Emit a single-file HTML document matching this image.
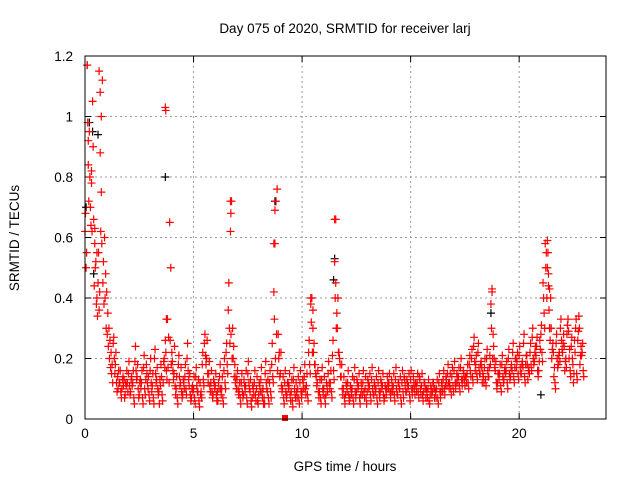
<!DOCTYPE html>
<html><head><meta charset="utf-8"><style>
html,body{margin:0;padding:0;background:#fff;}
svg{display:block;font-family:"Liberation Sans",sans-serif;}
</style></head><body>
<svg id="chart" width="640" height="480">
<text x="345" y="33" font-size="13.5" text-anchor="middle">Day 075 of 2020, SRMTID for receiver larj</text>
<text x="345" y="471" font-size="13.5" text-anchor="middle">GPS time / hours</text>
<text x="19" y="238" font-size="13.5" text-anchor="middle" transform="rotate(-90 19 238)">SRMTID / TECUs</text>
<g id="grid"></g>
<g id="ticks"></g>
<g id="marks"></g>
<rect x="85" y="56" width="521" height="363" fill="none" stroke="#000" stroke-width="1"/>
</svg>
<script>
const xTicks=[0,5,10,15,20];
const yTicks=[0,0.2,0.4,0.6,0.8,1,1.2];
const yTickLabels=["0","0.2","0.4","0.6","0.8","1","1.2"];
const valuesA=[0.62,1.17,0.95,0.78,0.66,0.52,0.45,0.88,1.12,0.60,
0.42,0.30,0.22,0.25,0.18,0.14,0.12,0.10,0.13,0.11,
0.15,0.09,0.12,0.19,0.14,0.08,0.12,0.17,0.13,0.10,
0.16,0.11,0.20,0.13,0.09,0.18,0.12,0.26,0.33,0.65,
0.22,0.15,0.10,0.18,0.12,0.08,0.14,0.20,0.11,0.07,
0.10,0.14,0.09,0.12,0.18,0.25,0.20,0.15,0.12,0.08,
0.11,0.09,0.14,0.10,0.16,0.22,0.36,0.62,0.30,0.18,
0.13,0.09,0.12,0.08,0.11,0.15,0.09,0.07,0.12,0.10,
0.08,0.13,0.10,0.15,0.09,0.12,0.18,0.42,0.72,0.28,
0.15,0.10,0.12,0.08,0.11,0.09,0.13,0.07,0.10,0.12,
0.09,0.14,0.11,0.22,0.38,0.30,0.18,0.12,0.09,0.13,
0.10,0.08,0.15,0.12,0.21,0.52,0.35,0.22,0.14,0.10,
0.08,0.12,0.07,0.10,0.13,0.09,0.11,0.08,0.12,0.10,
0.09,0.11,0.13,0.08,0.10,0.12,0.09,0.11,0.07,0.10,
0.12,0.09,0.11,0.13,0.08,0.10,0.12,0.14,0.09,0.11,
0.13,0.10,0.08,0.12,0.14,0.11,0.09,0.07,0.10,0.08,
0.09,0.07,0.10,0.12,0.09,0.13,0.11,0.15,0.12,0.14,
0.16,0.12,0.14,0.17,0.13,0.11,0.15,0.18,0.20,0.24,
0.18,0.22,0.15,0.12,0.17,0.20,0.14,0.38,0.28,0.16,
0.12,0.15,0.18,0.13,0.16,0.20,0.14,0.22,0.17,0.19,
0.21,0.15,0.25,0.18,0.13,0.22,0.27,0.19,0.24,0.16,
0.28,0.45,0.58,0.50,0.30,0.20,0.14,0.25,0.18,0.30,
0.22,0.16,0.28,0.20,0.24,0.12,0.30,0.26,0.18,0.22];
const valuesB=[0.50,0.84,0.70,1.05,0.58,0.40,0.36,0.75,0.52,0.48,
0.35,0.26,0.18,0.20,0.12,0.16,0.09,0.14,0.08,0.12,
0.11,0.14,0.07,0.16,0.10,0.13,0.07,0.10,0.15,0.08,
0.12,0.07,0.15,0.10,0.13,0.08,0.20,0.16,0.27,0.50,
0.16,0.11,0.07,0.14,0.09,0.12,0.10,0.16,0.08,0.11,
0.07,0.11,0.06,0.09,0.13,0.21,0.15,0.11,0.09,0.12,
0.08,0.12,0.10,0.07,0.12,0.18,0.30,0.72,0.24,0.14,
0.10,0.07,0.09,0.11,0.07,0.12,0.06,0.10,0.08,0.06,
0.11,0.09,0.07,0.12,0.07,0.09,0.14,0.58,0.76,0.22,
0.11,0.07,0.09,0.12,0.08,0.06,0.10,0.09,0.07,0.09,
0.12,0.10,0.08,0.18,0.40,0.25,0.14,0.09,0.07,0.10,
0.07,0.11,0.12,0.09,0.16,0.66,0.40,0.18,0.10,0.07,
0.11,0.08,0.10,0.07,0.09,0.12,0.07,0.10,0.09,0.07,
0.12,0.08,0.10,0.11,0.07,0.09,0.12,0.08,0.10,0.12,
0.09,0.11,0.08,0.10,0.12,0.07,0.09,0.11,0.12,0.08,
0.10,0.12,0.11,0.09,0.10,0.08,0.12,0.09,0.06,0.10,
0.12,0.09,0.07,0.09,0.11,0.10,0.13,0.12,0.10,0.11,
0.12,0.14,0.11,0.13,0.15,0.14,0.12,0.16,0.14,0.19,
0.15,0.17,0.19,0.14,0.13,0.16,0.21,0.43,0.20,0.12,
0.15,0.11,0.14,0.17,0.12,0.15,0.18,0.14,0.20,0.15,
0.17,0.19,0.14,0.21,0.17,0.18,0.20,0.24,0.16,0.26,
0.22,0.35,0.55,0.44,0.40,0.25,0.12,0.20,0.22,0.26,
0.28,0.20,0.33,0.16,0.20,0.26,0.15,0.34,0.24,0.16];
const valuesC=[0.68,0.98,0.80,0.62,0.44,0.38,0.55,0.62,0.45,0.40,
0.28,0.20,0.15,0.27,0.22,0.10,0.16,0.13,0.07,0.16,
0.19,0.13,0.16,0.24,0.18,0.12,0.16,0.21,0.18,0.14,
0.20,0.15,0.23,0.17,0.05,0.14,0.19,0.22,0.17,0.26,
0.19,0.24,0.14,0.21,0.17,0.13,0.18,0.25,0.15,0.10,
0.14,0.17,0.13,0.08,0.22,0.28,0.26,0.19,0.16,0.13,
0.15,0.06,0.18,0.14,0.20,0.25,0.45,0.28,0.20,0.12,
0.16,0.12,0.15,0.13,0.16,0.19,0.13,0.11,0.16,0.14,
0.12,0.17,0.05,0.19,0.13,0.16,0.25,0.33,0.28,0.20,
0.22,0.14,0.16,0.12,0.15,0.13,0.17,0.12,0.14,0.16,
0.13,0.18,0.15,0.26,0.32,0.22,0.15,0.16,0.13,0.17,
0.14,0.12,0.19,0.16,0.26,0.40,0.30,0.20,0.18,0.14,
0.12,0.16,0.11,0.14,0.17,0.13,0.15,0.12,0.16,0.14,
0.13,0.15,0.17,0.12,0.14,0.16,0.13,0.15,0.11,0.14,
0.15,0.13,0.15,0.17,0.12,0.14,0.16,0.13,0.13,0.15,
0.16,0.14,0.12,0.15,0.13,0.15,0.12,0.10,0.13,0.11,
0.12,0.10,0.13,0.15,0.12,0.16,0.14,0.18,0.15,0.17,
0.19,0.15,0.17,0.20,0.16,0.14,0.18,0.21,0.23,0.27,
0.21,0.25,0.18,0.15,0.20,0.23,0.17,0.30,0.24,0.19,
0.15,0.18,0.21,0.16,0.19,0.23,0.17,0.25,0.20,0.22,
0.24,0.18,0.28,0.21,0.16,0.25,0.30,0.22,0.27,0.19,
0.31,0.40,0.50,0.55,0.26,0.23,0.17,0.28,0.21,0.33,
0.25,0.19,0.31,0.23,0.27,0.15,0.33,0.29,0.21,0.25];
const valuesD=[0.55,0.72,0.64,0.90,0.50,0.34,0.42,0.58,0.38,0.30,
0.24,0.17,0.12,0.15,0.09,0.12,0.07,0.11,0.12,0.09,
0.08,0.11,0.05,0.13,0.07,0.10,0.05,0.08,0.12,0.06,
0.09,0.05,0.12,0.08,0.11,0.06,0.17,0.13,0.12,0.18,
0.13,0.08,0.05,0.11,0.07,0.10,0.08,0.13,0.06,0.09,
0.05,0.09,0.04,0.07,0.11,0.18,0.12,0.09,0.07,0.10,
0.06,0.10,0.08,0.05,0.10,0.15,0.25,0.20,0.14,0.10,
0.08,0.05,0.07,0.09,0.05,0.10,0.04,0.08,0.06,0.05,
0.09,0.07,0.05,0.10,0.05,0.07,0.12,0.20,0.16,0.14,
0.09,0.05,0.07,0.10,0.06,0.04,0.08,0.07,0.05,0.07,
0.10,0.08,0.06,0.15,0.22,0.18,0.11,0.07,0.05,0.08,
0.05,0.09,0.10,0.07,0.13,0.30,0.22,0.14,0.08,0.05,
0.09,0.06,0.08,0.05,0.07,0.10,0.05,0.08,0.07,0.05,
0.10,0.06,0.08,0.09,0.05,0.07,0.10,0.06,0.08,0.10,
0.07,0.09,0.06,0.08,0.10,0.05,0.07,0.09,0.10,0.06,
0.08,0.10,0.09,0.07,0.08,0.06,0.10,0.07,0.05,0.08,
0.10,0.07,0.05,0.07,0.09,0.08,0.11,0.10,0.08,0.09,
0.10,0.12,0.09,0.11,0.13,0.12,0.10,0.14,0.12,0.16,
0.13,0.15,0.17,0.12,0.11,0.14,0.18,0.20,0.17,0.10,
0.13,0.09,0.12,0.15,0.10,0.13,0.16,0.12,0.17,0.13,
0.15,0.17,0.12,0.18,0.15,0.16,0.18,0.21,0.14,0.23,
0.19,0.30,0.40,0.36,0.30,0.22,0.10,0.17,0.19,0.23,
0.24,0.17,0.29,0.14,0.18,0.22,0.13,0.30,0.21,0.14];
const extraT=[0.1,0.15,0.3,0.45,0.55,0.65,0.7,0.75,3.7,3.72,3.75,6.7,6.72,8.7,8.75,10.4,10.5,11.5,11.55,18.75,21.3,21.35,21.4];
const extraV=[1.17,0.92,0.82,0.63,0.55,1.15,1.08,1.0,1.03,1.02,0.33,0.72,0.68,0.58,0.69,0.40,0.36,0.66,0.45,0.42,0.59,0.48,0.43];
const blackT=[0.05,0.2,0.35,0.4,0.6,3.7,8.75,11.45,11.5,18.7,21.0,21.4];
const blackV=[0.70,0.98,0.95,0.48,0.94,0.80,0.72,0.46,0.53,0.35,0.08,0.30];
const x0=85,x1=606,y0=419,y1=56;
const sx=t=>x0+t/24*(x1-x0);
const sy=v=>y0-v/1.2*(y0-y1);
const NS="http://www.w3.org/2000/svg";
const grid=document.getElementById('grid'),ticks=document.getElementById('ticks'),marks=document.getElementById('marks');
function line(p,a,b,c,d,st,dash){const l=document.createElementNS(NS,'line');l.setAttribute('x1',a);l.setAttribute('y1',b);l.setAttribute('x2',c);l.setAttribute('y2',d);l.setAttribute('stroke',st);if(dash)l.setAttribute('stroke-dasharray',dash);p.appendChild(l);return l;}
function txt(p,x,y,s,anc){const t=document.createElementNS(NS,'text');t.setAttribute('x',x);t.setAttribute('y',y);t.setAttribute('font-size','13.5');t.setAttribute('text-anchor',anc);t.textContent=s;p.appendChild(t);return t;}
xTicks.forEach(v=>{const x=sx(v);
 if(v>0){const g=line(grid,x,y1,x,y0,'#999','2,3');
 
 }
 line(ticks,x,y0,x,y0-6,'#000');line(ticks,x,y1,x,y1+6,'#000');
 const t=txt(ticks,x,y0+19,String(v),'middle');
 
 });
yTicks.forEach((v,i)=>{const y=sy(v);
 if(v>0&&v<1.2){const g=line(grid,x0,y,x1,y,'#999','2,3');
 
 }
 line(ticks,x0,y,x0+6,y,'#000');line(ticks,x1,y,x1-6,y,'#000');
 const t=txt(ticks,x0-12,y+5,yTickLabels[i],'end');
 
 });
function cross(t,v,col,name){const x=sx(t),y=sy(v);const p=document.createElementNS(NS,'path');
 p.setAttribute('d',`M${x-4},${y}H${x+4}M${x},${y-4}V${y+4}`);p.setAttribute('stroke',col);p.setAttribute('stroke-width','1.2');p.setAttribute('fill','none');
 
 
 marks.appendChild(p);}
blackT.forEach((t,i)=>cross(t,blackV[i],'#000','black-point'));
valuesA.forEach((v,i)=>cross(i*0.1,v,'#f00','red-point'));
valuesC.forEach((v,i)=>cross(i*0.1+0.025,v,'#f00','red-point'));
valuesB.forEach((v,i)=>cross(i*0.1+0.05,v,'#f00','red-point'));
valuesD.forEach((v,i)=>cross(i*0.1+0.075,v,'#f00','red-point'));
extraT.forEach((t,i)=>cross(t,extraV[i],'#f00','red-point'));
const sq=document.createElementNS(NS,'rect');sq.setAttribute('x',282);sq.setAttribute('y',415);sq.setAttribute('width',6);sq.setAttribute('height',6);sq.setAttribute('fill','#f00');


marks.appendChild(sq);
</script>
</body></html>
